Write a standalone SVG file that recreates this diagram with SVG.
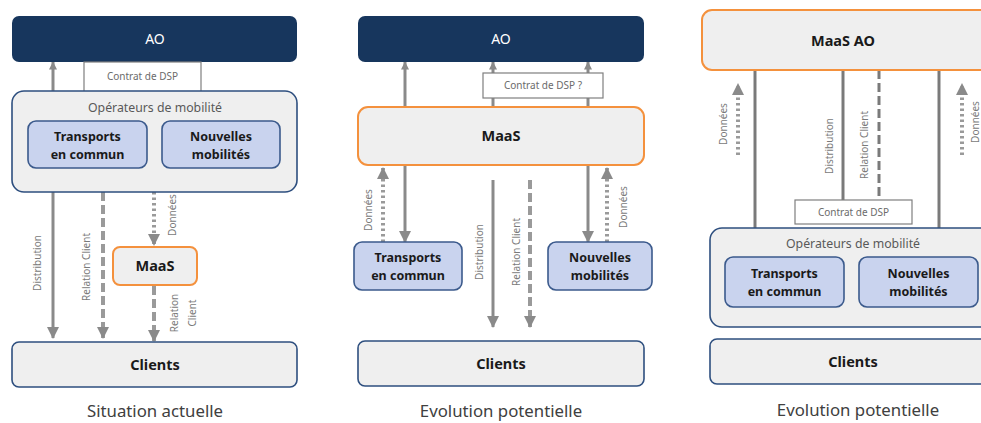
<svg xmlns="http://www.w3.org/2000/svg" width="981" height="423" viewBox="0 0 981 423">
  <style>
    text { font-family: "Noto Sans", "Open Sans", "DejaVu Sans", sans-serif; text-anchor: middle; }
    .ao { fill: #17365d; }
    .ao-t { fill: #ffffff; font-size: 14px; }
    .grp { fill: #efefef; stroke: #2e4f7f; stroke-width: 1.6; }
    .grp-t { fill: #595959; font-size: 12.3px; }
    .sub { fill: #c9d3ee; stroke: #3b5a8c; stroke-width: 1.6; }
    .sub-t { fill: #1a1a1a; font-size: 12.5px; font-weight: 700; }
    .maas { fill: #efefef; stroke: #f4913d; stroke-width: 2; }
    .bold-t { fill: #1a1a1a; font-size: 14.5px; font-weight: 700; }
    .cli { fill: #efefef; stroke: #2e4f7f; stroke-width: 1.6; }
    .dsp { fill: #ffffff; stroke: #7f7f7f; stroke-width: 1.2; }
    .dsp-t { fill: #6b6b6b; font-size: 10px; }
    .lbl { fill: #7a7a7a; font-size: 10px; }
    .cap { fill: #404040; font-size: 16.8px; }
    .solid { stroke: #8a8a8a; stroke-width: 3; fill: none; }
    .dash { stroke: #9a9a9a; stroke-width: 4; stroke-dasharray: 9 4; fill: none; }
    .dot { stroke: #9a9a9a; stroke-width: 4; stroke-dasharray: 2.5 3; fill: none; }
    .link { stroke: #7a7a7a; stroke-width: 3; fill: none; }
    .arr { marker-end: url(#head); }
    .arr-s { marker-end: url(#head-s); }
  </style>
  <defs>
    <marker id="head" markerUnits="userSpaceOnUse" markerWidth="12" markerHeight="12" viewBox="0 0 12 12" refX="11" refY="6" orient="auto">
      <path d="M0,0 L12,6 L0,12 Z" fill="#8a8a8a"/>
    </marker>
    <marker id="head-s" markerUnits="userSpaceOnUse" markerWidth="8" markerHeight="8" viewBox="0 0 8 8" refX="7.5" refY="4" orient="auto">
      <path d="M0,0 L8,4 L0,8 Z" fill="#8a8a8a"/>
    </marker>
  </defs>

  <!-- connectors -->
  <g id="connectors">
    <!-- left column -->
    <line class="solid arr-s" x1="53" y1="92" x2="53" y2="62"/>
    <line class="solid arr" x1="53" y1="192" x2="53" y2="338"/>
    <line class="dash arr" x1="103" y1="192" x2="103" y2="338"/>
    <line class="dot arr" x1="154" y1="192" x2="154" y2="245"/>
    <line class="dash arr" x1="154" y1="286" x2="154" y2="341"/>
    <!-- middle column -->
    <line class="solid arr-s" x1="405" y1="107" x2="405" y2="62"/>
    <line class="solid arr-s" x1="493" y1="107" x2="493" y2="62"/>
    <line class="solid arr-s" x1="588" y1="107" x2="588" y2="62"/>
    <line class="dot arr" x1="383" y1="242" x2="383" y2="168"/>
    <line class="solid arr" x1="405" y1="165" x2="405" y2="242"/>
    <line class="solid arr" x1="493" y1="180" x2="493" y2="327"/>
    <line class="dash arr" x1="530" y1="180" x2="530" y2="327"/>
    <line class="solid arr" x1="588" y1="165" x2="588" y2="242"/>
    <line class="dot arr" x1="607" y1="242" x2="607" y2="168"/>
    <!-- right column -->
    <line class="link" x1="755" y1="70" x2="755" y2="228"/>
    <line class="link" x1="843" y1="70" x2="843" y2="200"/>
    <line class="link" x1="879" y1="70" x2="879" y2="200" stroke-dasharray="9 4" stroke="#8a8a8a"/>
    <line class="link" x1="939" y1="70" x2="939" y2="228"/>
    <line class="dot arr" x1="738" y1="155" x2="738" y2="84"/>
    <line class="dot arr" x1="962" y1="155" x2="962" y2="84"/>

    <!-- connector labels -->
    <text class="lbl" transform="translate(41,263) rotate(-90)">Distribution</text>
    <text class="lbl" transform="translate(90,267) rotate(-90)">Relation Client</text>
    <text class="lbl" transform="translate(176,215) rotate(-90)">Données</text>
    <text class="lbl" transform="translate(178,313) rotate(-90)">Relation</text>
    <text class="lbl" transform="translate(196,313) rotate(-90)">Client</text>

    <text class="lbl" transform="translate(372,210) rotate(-90)">Données</text>
    <text class="lbl" transform="translate(483,252) rotate(-90)">Distribution</text>
    <text class="lbl" transform="translate(520,252) rotate(-90)">Relation Client</text>
    <text class="lbl" transform="translate(627,207) rotate(-90)">Données</text>

    <text class="lbl" transform="translate(727,124) rotate(-90)">Données</text>
    <text class="lbl" transform="translate(833,146) rotate(-90)">Distribution</text>
    <text class="lbl" transform="translate(868,145) rotate(-90)">Relation Client</text>
    <text class="lbl" transform="translate(979,122) rotate(-90)">Données</text>
  </g>

  <!-- left column: current situation -->
  <g id="ao-1">
    <rect class="ao" x="12" y="16" width="285" height="46" rx="7"/>
    <text class="ao-t" x="155" y="44">AO</text>
  </g>
  <g id="dsp-1">
    <rect class="dsp" x="84" y="62" width="117" height="30"/>
    <text class="dsp-t" x="142.5" y="80">Contrat de DSP</text>
  </g>
  <g id="operateurs-1">
    <rect class="grp" x="12" y="91" width="285" height="101" rx="12"/>
    <text class="grp-t" x="155" y="112">Opérateurs de mobilité</text>
  </g>
  <g id="transports-1">
    <rect class="sub" x="28" y="121" width="119" height="47" rx="8"/>
    <text class="sub-t" x="87.5" y="141">Transports</text>
    <text class="sub-t" x="87.5" y="159">en commun</text>
  </g>
  <g id="nouvelles-1">
    <rect class="sub" x="162" y="121" width="118" height="47" rx="8"/>
    <text class="sub-t" x="221" y="141">Nouvelles</text>
    <text class="sub-t" x="221" y="159">mobilités</text>
  </g>
  <g id="maas-1">
    <rect class="maas" x="113" y="247" width="84" height="38" rx="7"/>
    <text class="bold-t" x="155" y="271">MaaS</text>
  </g>
  <g id="clients-1">
    <rect class="cli" x="12" y="342" width="285" height="45" rx="7"/>
    <text class="bold-t" x="155" y="370">Clients</text>
  </g>
  <text class="cap" x="155" y="417">Situation actuelle</text>

  <!-- middle column: MaaS between AO and operators -->
  <g id="ao-2">
    <rect class="ao" x="358" y="16" width="286" height="46" rx="7"/>
    <text class="ao-t" x="501" y="44">AO</text>
  </g>
  <g id="dsp-2">
    <rect class="dsp" x="483" y="73" width="120" height="25"/>
    <text class="dsp-t" x="543" y="89">Contrat de DSP ?</text>
  </g>
  <g id="maas-2">
    <rect class="maas" x="358" y="107" width="286" height="58" rx="10"/>
    <text class="bold-t" x="501" y="141">MaaS</text>
  </g>
  <g id="transports-2">
    <rect class="sub" x="354" y="242" width="108" height="48" rx="8"/>
    <text class="sub-t" x="408" y="262">Transports</text>
    <text class="sub-t" x="408" y="280">en commun</text>
  </g>
  <g id="nouvelles-2">
    <rect class="sub" x="548" y="242" width="104" height="48" rx="8"/>
    <text class="sub-t" x="600" y="262">Nouvelles</text>
    <text class="sub-t" x="600" y="280">mobilités</text>
  </g>
  <g id="clients-2">
    <rect class="cli" x="358" y="341" width="286" height="45" rx="7"/>
    <text class="bold-t" x="501" y="369">Clients</text>
  </g>
  <text class="cap" x="501" y="417">Evolution potentielle</text>

  <!-- right column: MaaS run by the AO -->
  <g id="maas-ao-3">
    <rect class="maas" x="702" y="10" width="292" height="60" rx="10"/>
    <text class="bold-t" x="843" y="46">MaaS AO</text>
  </g>
  <g id="dsp-3">
    <rect class="dsp" x="795" y="200" width="117" height="24"/>
    <text class="dsp-t" x="853.5" y="216">Contrat de DSP</text>
  </g>
  <g id="operateurs-3">
    <rect class="grp" x="710" y="228" width="292" height="99" rx="12"/>
    <text class="grp-t" x="853" y="248">Opérateurs de mobilité</text>
  </g>
  <g id="transports-3">
    <rect class="sub" x="725" y="257" width="119" height="50" rx="8"/>
    <text class="sub-t" x="784.5" y="278">Transports</text>
    <text class="sub-t" x="784.5" y="296">en commun</text>
  </g>
  <g id="nouvelles-3">
    <rect class="sub" x="859" y="257" width="119" height="50" rx="8"/>
    <text class="sub-t" x="918.5" y="278">Nouvelles</text>
    <text class="sub-t" x="918.5" y="296">mobilités</text>
  </g>
  <g id="clients-3">
    <rect class="cli" x="710" y="339" width="292" height="45" rx="7"/>
    <text class="bold-t" x="853" y="367">Clients</text>
  </g>
  <text class="cap" x="858" y="416">Evolution potentielle</text>
</svg>
